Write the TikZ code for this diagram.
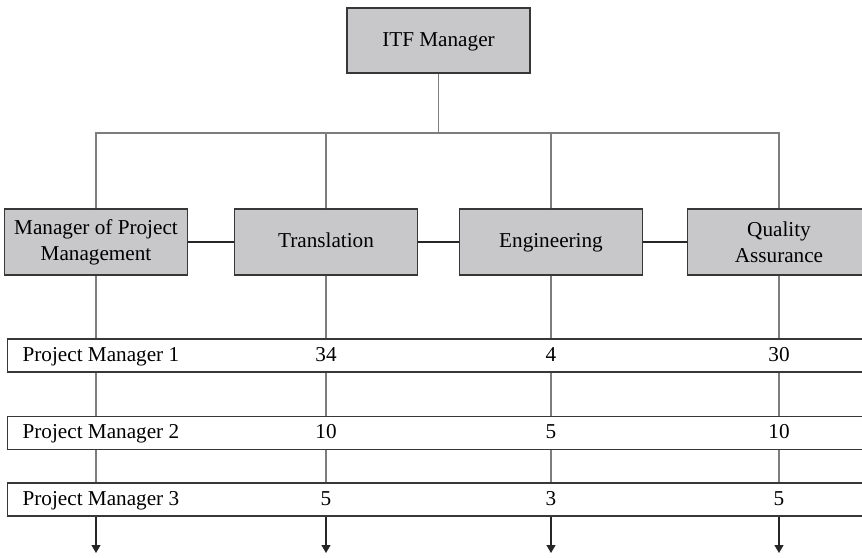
\documentclass[tikz,border=0pt]{standalone}
\usepackage{fontspec}
\setmainfont{Liberation Serif}
\usetikzlibrary{positioning, arrows.meta}
\definecolor{boxgray}{RGB}{200,200,203}
\definecolor{edgegray}{RGB}{55,55,55}
\definecolor{linegray}{RGB}{125,125,125}

\begin{document}
\begin{tikzpicture}[x=0.5pt, y=-0.5pt, line width=0.6pt,
    box/.style={draw=edgegray, fill=boxgray, minimum width=91.5pt, minimum height=33pt,
      inner sep=0pt, align=center, font=\fontsize{10.6}{13}\selectfont},
    oneline/.style={text height=1.5ex, text depth=.25ex},
    rowbar/.style={draw=edgegray, fill=white, anchor=west, minimum height=16.5pt,
      text width=421.5pt, inner xsep=7.5pt, inner ysep=0pt, align=flush left,
      text height=1.5ex, text depth=.25ex, font=\fontsize{10.6}{13}\selectfont},
    num/.style={inner sep=0pt, text height=1.5ex, text depth=.25ex,
      font=\fontsize{10.6}{13}\selectfont},
    link/.style={draw=linegray},
    hlink/.style={draw=black!85}]
  \useasboundingbox (0,0) rectangle (862,557);

  % top
  \node [box, oneline, minimum height=32.5pt] (itf) at (438.5,40.5) {ITF Manager};
  \coordinate (bus) at (438.5,133);
  \coordinate (tip) at (0,553);

  % departments
  \node [box] (mpm) at (96,242) {Manager of Project\\Management};
  \node [box, oneline] (tr)  at (326,242) {Translation};
  \node [box, oneline] (eng) at (551,242) {Engineering};
  \node [box] (qa)  at (779,242) {Quality\\Assurance};

  % project manager rows
  \node [rowbar] (r1) at (7,355.5) {Project Manager 1};
  \node [rowbar] (r2) at (7,433) {Project Manager 2};
  \node [rowbar] (r3) at (7,499.5) {Project Manager 3};

  % tree
  \draw [link] (itf.south) -- (bus);
  \draw [link] (mpm.north) -- (mpm.north |- bus) -- (qa.north |- bus) -- (qa.north);
  \draw [link] (tr.north) -- (tr.north |- bus);
  \draw [link] (eng.north) -- (eng.north |- bus);
  \draw [hlink] (mpm.east) -- (tr.west);
  \draw [hlink] (tr.east) -- (eng.west);
  \draw [hlink] (eng.east) -- (qa.west);

  \foreach \col in {mpm, tr, eng, qa} {
    \draw [link] (\col.south) -- (\col.south |- r1.north);
    \draw [link] (\col.south |- r1.south) -- (\col.south |- r2.north);
    \draw [link] (\col.south |- r2.south) -- (\col.south |- r3.north);
    \draw [link, -{Triangle[width=4.5pt, length=4pt]}, black!85] (\col.south |- r3.south) -- (\col.south |- tip);
  }

  % counts
  \foreach \col/\a/\b/\c in {tr/34/10/5, eng/4/5/3, qa/30/10/5} {
    \node [num] (\col-1) at (\col |- r1) {\a};
    \node [num] (\col-2) at (\col |- r2) {\b};
    \node [num] (\col-3) at (\col |- r3) {\c};
  }
\end{tikzpicture}
\end{document}
